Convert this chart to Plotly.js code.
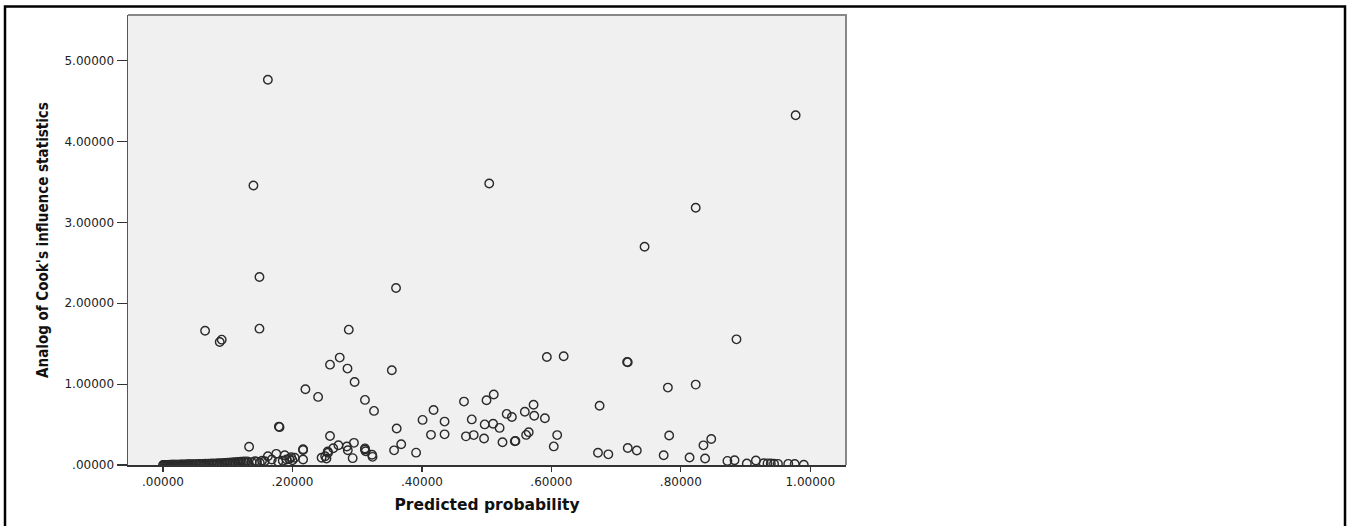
<!DOCTYPE html>
<html>
<head>
<meta charset="utf-8">
<script src="https://cdn.plot.ly/plotly-3.0.1.min.js"></script>
<style>
html,body{margin:0;padding:0;background:#fff;}
#chart{width:1350px;height:526px;}
</style>
</head>
<body>
<div id="chart"></div>
<script>
// Predicted probability (x) and Analog of Cook's influence statistics (y)
const predProb = [
  0.000,0.003,0.006,0.009,0.012,0.015,0.018,0.022,0.026,0.030,
  0.034,0.038,0.042,0.047,0.052,0.057,0.062,0.067,0.072,0.077,
  0.082,0.087,0.092,0.097,0.102,0.107,0.112,0.117,0.122,0.127,
  0.0015,0.0045,0.0075,0.0105,0.0135,0.0165,0.020,0.024,0.028,0.032,
  0.036,0.040,0.045,0.050,0.055,0.060,0.065,0.070,0.075,0.080,
  0.085,0.090,0.095,0.100,0.105,0.110,0.115,0.120,0.125,0.130,
  0.065,0.0876,0.0907,
  0.1315,0.133,0.137,0.1397,0.142,0.145,0.149,0.149,0.1495,0.153,
  0.157,0.162,0.162,0.168,0.175,0.178,0.179,0.180,0.185,0.188,
  0.191,0.195,0.198,0.200,0.2035,
  0.2164,0.2164,0.2164,0.220,0.2396,0.245,0.2505,0.2525,0.2545,0.255,
  0.258,0.258,0.263,0.273,0.271,0.284,0.285,0.2855,0.287,0.293,
  0.295,0.296,0.312,0.312,0.312,0.313,0.323,0.3237,0.326,
  0.3535,0.357,0.360,0.361,0.368,0.391,0.401,0.414,0.418,0.435,0.435,
  0.465,0.468,0.477,0.480,0.496,0.497,0.4998,0.504,0.510,0.511,
  0.520,0.5245,0.531,0.539,0.5435,0.5445,0.559,0.561,0.565,0.5725,
  0.5735,0.590,0.593,0.6037,0.609,0.619,
  0.672,0.6745,0.688,0.717,0.718,0.718,0.732,0.744,0.7735,0.780,
  0.782,0.8135,0.823,0.823,0.835,0.8375,0.847,0.872,0.883,0.886,
  0.902,0.916,0.928,0.934,0.939,0.944,0.950,0.966,0.976,0.9774,0.990
];
const cookInfluence = [
  0.001,0.001,0.002,0.002,0.002,0.003,0.003,0.004,0.004,0.005,
  0.005,0.006,0.007,0.008,0.008,0.009,0.010,0.011,0.012,0.013,
  0.014,0.016,0.018,0.020,0.022,0.025,0.028,0.030,0.033,0.036,
  0.001,0.002,0.002,0.003,0.003,0.004,0.005,0.005,0.006,0.007,
  0.008,0.009,0.010,0.011,0.012,0.013,0.015,0.016,0.018,0.019,
  0.021,0.023,0.026,0.028,0.031,0.034,0.037,0.040,0.043,0.045,
  1.661,1.522,1.550,
  0.027,0.225,0.035,3.456,0.047,0.040,2.325,1.686,0.027,0.052,
  0.047,4.765,0.109,0.068,0.138,0.039,0.475,0.468,0.052,0.121,
  0.068,0.075,0.096,0.060,0.089,
  0.195,0.185,0.068,0.937,0.842,0.089,0.109,0.080,0.167,0.151,
  1.241,0.358,0.208,1.328,0.245,0.229,1.192,0.183,1.674,0.085,
  0.274,1.027,0.805,0.205,0.191,0.170,0.126,0.101,0.669,
  1.171,0.181,2.189,0.451,0.257,0.153,0.558,0.373,0.681,0.537,0.379,
  0.784,0.354,0.564,0.370,0.327,0.502,0.800,3.481,0.511,0.872,
  0.459,0.282,0.632,0.593,0.294,0.298,0.658,0.372,0.405,0.745,
  0.609,0.578,1.336,0.230,0.370,1.344,
  0.152,0.733,0.132,1.275,1.270,0.210,0.179,2.699,0.121,0.957,
  0.364,0.093,3.181,0.994,0.243,0.080,0.321,0.051,0.058,1.554,
  0.018,0.055,0.022,0.020,0.018,0.016,0.014,0.014,0.012,4.326,0.004
];
const xTickVals = [0, 0.2, 0.4, 0.6, 0.8, 1.0];
const xTickText = ['.00000', '.20000', '.40000', '.60000', '.80000', '1.00000'];
const yTickVals = [0, 1, 2, 3, 4, 5];
const yTickText = ['.00000', '1.00000', '2.00000', '3.00000', '4.00000', '5.00000'];
const xTitle = 'Predicted probability';
const yTitle = "Analog of Cook's influence statistics";

const trace = {
  type: 'scatter',
  mode: 'markers',
  x: predProb,
  y: cookInfluence,
  cliponaxis: true,
  marker: {
    symbol: 'circle-open',
    size: 8.5,
    color: '#2a2a2a',
    line: {width: 1.4, color: '#2a2a2a'}
  },
  hoverinfo: 'x+y'
};

const layout = {
  width: 1350,
  height: 526,
  margin: {l: 128, r: 504, t: 15, b: 61, pad: 0},
  paper_bgcolor: '#ffffff',
  plot_bgcolor: '#f0f0f0',
  showlegend: false,
  xaxis: {
    range: [-0.0541, 1.0552],
    tickvals: xTickVals,
    ticktext: xTickText,
    ticks: 'outside',
    ticklen: 5,
    tickwidth: 1.2,
    tickcolor: '#333',
    showgrid: false,
    zeroline: false,
    showline: true,
    linecolor: '#333',
    linewidth: 1.5,
    tickfont: {family: 'DejaVu Sans, Arial, sans-serif', size: 12, color: '#222'},
    title: {text: xTitle, standoff: 11,
            font: {family: 'DejaVu Sans, Verdana, sans-serif', size: 15.5, color: '#111', weight: 'bold'}},
    automargin: false
  },
  yaxis: {
    range: [0, 5.565],
    tickvals: yTickVals,
    ticktext: yTickText,
    ticks: 'outside',
    ticklen: 10,
    tickwidth: 1.2,
    tickcolor: '#333',
    showgrid: false,
    zeroline: false,
    showline: true,
    linecolor: '#555',
    linewidth: 1.5,
    tickfont: {family: 'DejaVu Sans, Arial, sans-serif', size: 12, color: '#222'},
    title: {text: yTitle, standoff: 12,
            font: {family: 'Liberation Sans Narrow, DejaVu Sans Condensed, Arial Narrow, sans-serif', size: 15, color: '#111', weight: 'bold'}},
    automargin: false
  },
  shapes: [
    {type: 'path', xref: 'paper', yref: 'paper', path: 'M0,1 L1,1 L1,0',
     line: {color: '#888', width: 2}, layer: 'above'},
    {type: 'rect', xref: 'paper', yref: 'paper',
     x0: -0.1713, x1: 1.6950, y0: -0.20, y1: 1.0189,
     line: {color: '#000', width: 2.5}, fillcolor: 'rgba(0,0,0,0)', layer: 'above'}
  ]
};

Plotly.newPlot('chart', [trace], layout, {displayModeBar: false, staticPlot: true});
</script>
</body>
</html>
